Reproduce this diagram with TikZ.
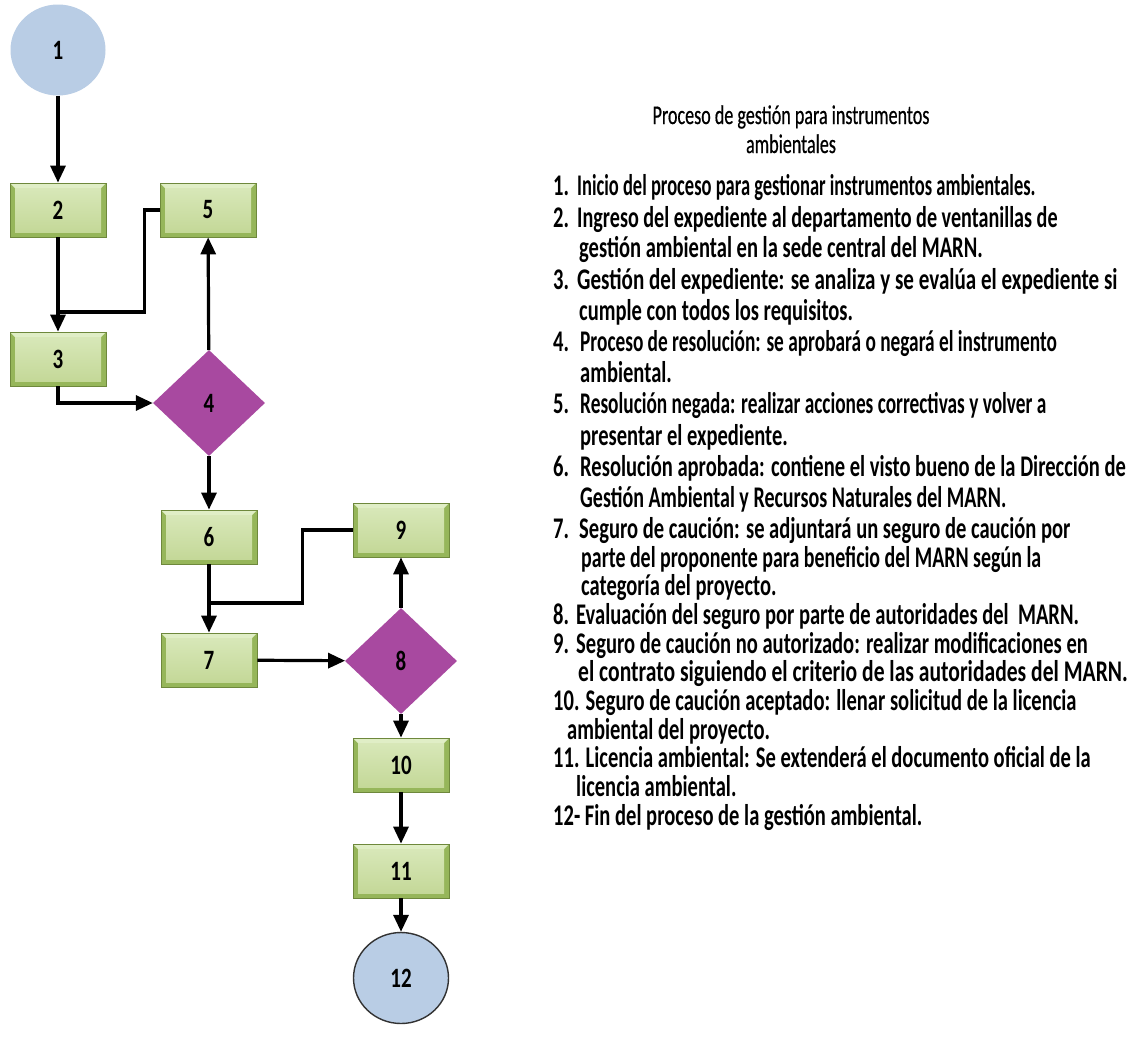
\documentclass[tikz,border=0pt]{standalone}
\usepackage{fontspec}
\setmainfont{Carlito}
\newfontfamily\calf[FakeStretch=0.685]{Carlito}
\newfontfamily\calt[FakeStretch=0.67,FakeBold=0.5]{Carlito}
\newfontfamily\calw[FakeStretch=0.75]{Carlito}
\usetikzlibrary{arrows.meta,shapes.geometric,backgrounds}

\definecolor{circfill}{RGB}{185,205,229}
\definecolor{circedge}{RGB}{50,50,50}
\definecolor{boxfill}{RGB}{196,216,152}
\definecolor{boxlight}{RGB}{224,238,198}
\definecolor{boxdark}{RGB}{150,182,90}
\definecolor{boxedge}{RGB}{110,136,60}
\definecolor{decfill}{RGB}{168,73,160}
\definecolor{reflc}{RGB}{205,213,220}

\begin{document}
\begin{tikzpicture}[x=1pt,y=-1pt,
  every node/.style={inner sep=0pt},
  lbl/.style={font=\calw\bfseries\fontsize{28}{32}\selectfont},
  stepbox/.style={lbl, rectangle, minimum width=96pt, minimum height=54pt,
    fill=boxdark, draw=boxedge, line width=0.8pt,
    path picture={
      \fill[boxlight] (path picture bounding box.north west)
        -- (path picture bounding box.north east)
        -- ([shift={(-5pt,-5pt)}]path picture bounding box.north east)
        -- ([shift={(5pt,-5pt)}]path picture bounding box.north west) -- cycle;
      \shade[top color=boxlight!70!boxfill, bottom color=boxfill]
        ([shift={(5pt,-5pt)}]path picture bounding box.north west)
        rectangle ([shift={(-5pt,5pt)}]path picture bounding box.south east);
    }},
  decision/.style={lbl, diamond, aspect=1.05, minimum width=112pt, minimum height=106pt, fill=decfill},
  terminal/.style={lbl, ellipse, minimum width=95pt, minimum height=91pt, fill=circfill},
  arr/.style={line width=3.2pt, -{Triangle[length=17pt,width=15pt]}},
  link/.style={line width=3.2pt},
  item/.style={anchor=base west, font=\calf\bfseries\fontsize{30}{33}\selectfont},
  heading/.style={anchor=base, font=\calt\fontsize{27}{30}\selectfont}
]
\useasboundingbox[fill=white] (0,0) rectangle (1142,1052);

% flow chart shapes
\node[terminal] (c1) at (58,50) {1};
\node[stepbox] (b2) at (58,210) {2};
\node[stepbox] (b5) at (208,210) {5};
\node[stepbox] (b3) at (58,359) {3};
\node[decision] (d4) at (209,403) {4};
\node[stepbox] (b6) at (209,537) {6};
\node[stepbox] (b9) at (401,530) {9};
\node[stepbox] (b7) at (209,660) {7};
\node[decision] (d8) at (401,661) {8};
\node[stepbox] (b10) at (401,765) {10};
\node[stepbox] (b11) at (401,871) {11};
\node[terminal, draw=circedge, line width=1.4pt] (c12) at (401,978) {12};

% soft reflections under the shapes
\begin{scope}[on background layer]
  \foreach \b in {b2,b5,b3,b6,b9,b7,b10,b11}{
    \shade[top color=reflc, bottom color=white]
      ([yshift=-3pt]\b.south west) rectangle ([yshift=-24pt]\b.south east);
  }
  \begin{scope}
    \clip (58,146) circle (47);
    \shade[top color=circfill!80, bottom color=white] (0,98) rectangle (120,140);
  \end{scope}
  \begin{scope}
    \clip (401,1070) ellipse (47 and 45);
    \shade[top color=circfill!60!gray!60, bottom color=white] (340,1025) rectangle (460,1052);
  \end{scope}
\end{scope}

% junction points where the return paths meet the main flow
\coordinate (j3) at (58,312);
\coordinate (j7) at (209,603);

% connectors
\draw[arr] (c1) -- (b2);
\draw[arr] (b2) -- (b3);
\draw[link] (b5.west) -- ++(-15,0) |- (j3);
\draw[arr] (b3.south) |- (d4.west);
\draw[arr] (d4) -- (b5);
\draw[arr] (d4) -- (b6);
\draw[arr] (b6) -- (b7);
\draw[link] (b9.west) -- ++(-50,0) |- (j7);
\draw[arr] (b7) -- (d8);
\draw[arr] (d8) -- (b9);
\draw[arr] (d8) -- (b10);
\draw[arr] (b10) -- (b11);
\draw[arr] (b11) -- (c12);

% description of the process
\node[heading] (h1) at (791,124) {Proceso de gestión para instrumentos};
\node[heading] (h2) at (791,153) {ambientales};

\node[item] (n1) at (553,195) {1.};
\node[item] (t1) at (577,195) {\scalebox{0.9}[1]{Inicio del proceso para gestionar instrumentos ambientales.}};
\node[item] (n2) at (553,227) {2.};
\node[item] (t2a) at (577,227) {\scalebox{0.98}[1]{Ingreso del expediente al departamento de ventanillas de}};
\node[item] (t2b) at (579,257) {gestión ambiental en la sede central del MARN.};
\node[item] (n3) at (553,289) {3.};
\node[item] (t3a) at (577,289) {\scalebox{1.025}[1]{Gestión del expediente: se analiza y se evalúa el expediente si}};
\node[item] (t3b) at (579,320) {cumple con todos los requisitos.};
\node[item] (n4) at (553,351) {4.};
\node[item] (t4a) at (580,351) {\scalebox{0.94}[1]{Proceso de resolución: se aprobará o negará el instrumento}};
\node[item] (t4b) at (580,382) {ambiental.};
\node[item] (n5) at (553,413) {5.};
\node[item] (t5a) at (580,413) {\scalebox{0.94}[1]{Resolución negada: realizar acciones correctivas y volver a}};
\node[item] (t5b) at (580,445) {presentar el expediente.};
\node[item] (n6) at (553,476) {6.};
\node[item] (t6a) at (580,476) {Resolución aprobada: contiene el visto bueno de la Dirección de};
\node[item] (t6b) at (580,507) {\scalebox{0.975}[1]{Gestión Ambiental y Recursos Naturales del MARN.}};
\node[item] (n7) at (553,538) {7.};
\node[item] (t7a) at (579,538) {Seguro de caución: se adjuntará un seguro de caución por};
\node[item] (t7b) at (581,567) {\scalebox{0.97}[1]{parte del proponente para beneficio del MARN según la}};
\node[item] (t7c) at (581,595) {categoría del proyecto.};
\node[item] (n8) at (553,624) {8.};
\node[item] (t8) at (576,624) {Evaluación del seguro por parte de autoridades del\ \ MARN.};
\node[item] (n9) at (553,653) {9.};
\node[item] (t9a) at (576,653) {Seguro de caución no autorizado: realizar modificaciones en};
\node[item] (t9b) at (578,681) {\scalebox{1.05}[1]{el contrato siguiendo el criterio de las autoridades del MARN.}};
\node[item] (t10a) at (553,710) {10. Seguro de caución aceptado: llenar solicitud de la licencia};
\node[item] (t10b) at (567,739) {ambiental del proyecto.};
\node[item] (t11a) at (553,767) {11. Licencia ambiental: Se extenderá el documento oficial de la};
\node[item] (t11b) at (576,796) {licencia ambiental.};
\node[item] (t12) at (553,825) {12- Fin del proceso de la gestión ambiental.};
\end{tikzpicture}
\end{document}
